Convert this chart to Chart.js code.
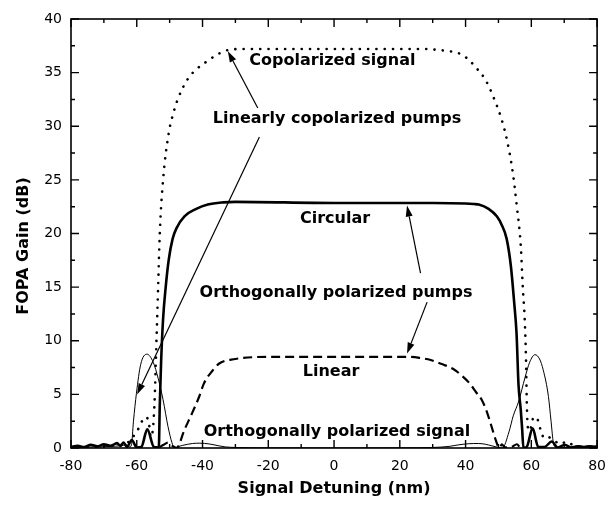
<!DOCTYPE html>
<html>
<head>
<meta charset="utf-8">
<script src="https://cdn.jsdelivr.net/npm/chart.js@4.4.1/dist/chart.umd.min.js"></script>
<style>
  html, body { margin: 0; padding: 0; background: #fff; }
</style>
</head>
<body>
<canvas id="fopa" width="616" height="508"></canvas>
<script>
// ── data (x = signal detuning in nm, y = gain in dB) ──
const copolX = [-80,-76,-72,-69,-66,-64,-62.8,-61.6,-60.6,-59.5,-58.4,-57.2,-56.3,-55.7,-55.2,-54.8,-54.5,-54.2,-53.9,-53.5,-53.0,-52.0,-50.3,-48.8,-47.3,-44.5,-41.9,-38.9,-35.4,-32.3,-28,-20,0,20,28,32,35,38,40.2,43.1,46.1,48.5,50.9,52.6,54.4,55.6,56.8,57.4,58.0,58.4,58.6,58.9,59.5,60.6,61.5,62.2,62.9,64.0,65.2,67.2,68.6,70.9,72.5,75,80];
const copolY = [0.05,0.1,0.12,0.2,0.25,0.3,0.5,0.8,1.3,1.8,2.5,2.9,2.3,1.0,1.5,3.0,5.0,8.0,11.0,15.0,20.0,25.0,29.3,31.3,32.7,34.4,35.3,36.0,36.7,37.1,37.2,37.2,37.2,37.2,37.2,37.1,37.0,36.8,36.4,35.5,34.3,32.7,30.7,28.7,25.6,22.5,18.8,15.0,11.9,8.0,4.5,2.0,1.6,2.8,2.9,2.4,1.6,0.9,1.0,0.65,0.35,0.6,0.3,0.15,0.1];

const circX = [-80,-78,-76,-74,-72,-70,-68,-66,-65,-64,-63,-61.5,-60,-58.6,-56.8,-54.8,-53.6,-53.3,-53.0,-52.6,-52.0,-51.2,-50.3,-49.1,-47.9,-45.5,-41.9,-38.4,-33.6,-30,0,30,40,42.5,44,47,49.5,51,52.5,53.8,54.8,55.5,56.1,56.8,57.2,57.6,58.6,60.4,62.1,64,66.2,68,70.2,72,74,76,78,80];
const circY = [0.1,0.2,0.1,0.3,0.15,0.35,0.2,0.45,0.2,0.5,0.1,0.75,0.05,0.1,1.75,0.1,0.05,0.0,4.0,8.0,12.0,15.0,17.5,19.5,20.5,21.6,22.3,22.7,22.9,22.95,22.85,22.85,22.8,22.75,22.7,22.3,21.6,20.8,19.5,16.9,13.5,10.7,5.9,3.5,1.8,0.0,0.1,1.83,0.1,0.1,0.6,0.05,0.3,0.05,0.15,0.1,0.15,0.1];

const linX = [-53,-51.8,-50.5,-49.2,-47.9,-45.5,-43.1,-41,-39.6,-37,-34.8,-30,-27.7,-20.5,0,22.3,26,29.4,33,36.6,39,41.3,43.2,44.9,46.2,47.3,48.3,49.1,50.3,51.0,52.0,54.0,55.6,56.5];
const linY = [0.1,0.3,0.5,0.2,0.0,1.7,3.3,4.8,6.0,7.2,7.9,8.3,8.4,8.5,8.5,8.5,8.4,8.2,7.8,7.3,6.7,6.0,5.2,4.5,3.6,2.6,1.6,0.8,0.0,0.35,0.05,0.1,0.35,0.05];

const orthoX = [-80,-76,-72,-68,-65,-63,-62.2,-61.6,-61.0,-60.1,-58.8,-56.9,-55,-53.5,-52,-50.5,-49.3,-48.6,-46,-43,-40.8,-38,-35,-33,-30,-20,0,20,30,35,38,41,44,46,48,50,51.2,53.2,54.5,56.1,58.1,59.5,61.1,62.5,63.6,65.2,66.0,66.7,67.5,70,75,80];
const orthoY = [0.05,0.1,0.1,0.15,0.2,0.3,0.1,0.3,2.5,5.1,7.8,8.75,8.0,6.5,4.5,2.0,0.5,0.05,0.25,0.42,0.45,0.38,0.2,0.1,0.05,0.02,0.01,0.02,0.05,0.15,0.3,0.4,0.42,0.35,0.2,0.05,0.0,1.5,3.0,4.3,6.6,8.0,8.7,8.3,7.3,4.8,2.5,0.5,0.1,0.05,0.1,0.05];

const xTickValues = [-80, -60, -40, -20, 0, 20, 40, 60, 80];
const yTickValues = [0, 5, 10, 15, 20, 25, 30, 35, 40];

// text labels placed in data coordinates
const noteText = ['Copolarized signal', 'Linearly copolarized pumps', 'Circular',
                  'Orthogonally polarized pumps', 'Linear', 'Orthogonally polarized signal'];
const noteX = [-0.5, 0.9, 0.3, 0.6, -0.9, 0.9];
const noteY = [36.1, 30.7, 21.4, 14.45, 7.1, 1.5];

// arrows: tail -> head, data coordinates
const arrowTailX = [-23.2, -22.7, 26.3, 28.3];
const arrowTailY = [31.7, 29.0, 16.3, 13.6];
const arrowHeadX = [-32.3, -59.9, 22.2, 22.2];
const arrowHeadY = [37.0, 5.0, 22.6, 8.8];

const zip = (xs, ys) => xs.map((x, i) => ({ x: x, y: ys[i] }));

const FONT = '"DejaVu Sans", sans-serif';

// frame, inward ticks, notes and arrows
const decorPlugin = {
  id: 'decor',
  afterDatasetsDraw(chart) {
    const ctx = chart.ctx;
    const a = chart.chartArea;
    const xs = chart.scales.x, ys = chart.scales.y;
    ctx.save();
    ctx.strokeStyle = '#000';
    ctx.lineWidth = 1.6;
    ctx.strokeRect(a.left, a.top, a.right - a.left, a.bottom - a.top);

    ctx.lineWidth = 1.4;
    ctx.beginPath();
    for (let v = -80; v <= 80; v += 10) {
      const px = xs.getPixelForValue(v);
      const len = v % 20 === 0 ? 8 : 4;
      ctx.moveTo(px, a.bottom); ctx.lineTo(px, a.bottom - len);
      ctx.moveTo(px, a.top);    ctx.lineTo(px, a.top + len);
    }
    for (let v = 0; v <= 40; v += 2.5) {
      const py = ys.getPixelForValue(v);
      const len = v % 5 === 0 ? 8 : 4;
      ctx.moveTo(a.left, py);  ctx.lineTo(a.left + len, py);
      ctx.moveTo(a.right, py); ctx.lineTo(a.right - len, py);
    }
    ctx.stroke();

    // notes
    ctx.fillStyle = '#000';
    ctx.font = 'bold 16px ' + FONT;
    ctx.textAlign = 'center';
    ctx.textBaseline = 'middle';
    noteText.forEach((t, i) => {
      ctx.fillText(t, xs.getPixelForValue(noteX[i]), ys.getPixelForValue(noteY[i]));
    });

    // arrows
    ctx.lineWidth = 1.2;
    arrowTailX.forEach((tx, i) => {
      const x0 = xs.getPixelForValue(tx), y0 = ys.getPixelForValue(arrowTailY[i]);
      const x1 = xs.getPixelForValue(arrowHeadX[i]), y1 = ys.getPixelForValue(arrowHeadY[i]);
      const ang = Math.atan2(y1 - y0, x1 - x0);
      const hl = 11, hw = 3.5;
      const bx = x1 - hl * Math.cos(ang), by = y1 - hl * Math.sin(ang);
      ctx.beginPath();
      ctx.moveTo(x0, y0); ctx.lineTo(bx, by);
      ctx.stroke();
      ctx.beginPath();
      ctx.moveTo(x1, y1);
      ctx.lineTo(bx + hw * Math.sin(ang), by - hw * Math.cos(ang));
      ctx.lineTo(bx - hw * Math.sin(ang), by + hw * Math.cos(ang));
      ctx.closePath();
      ctx.fill();
    });

    // y axis title
    ctx.font = 'bold 16px ' + FONT;
    ctx.translate(24, 246);
    ctx.rotate(-Math.PI / 2);
    ctx.fillText('FOPA Gain (dB)', 0, 0);
    ctx.restore();
  }
};

const common = { pointRadius: 0, borderColor: '#000', fill: false, cubicInterpolationMode: 'monotone' };

new Chart(document.getElementById('fopa'), {
  type: 'line',
  data: {
    datasets: [
      Object.assign({ label: 'Copolarized signal', data: zip(copolX, copolY), borderWidth: 2.6, borderDash: [0.1, 8.2], borderCapStyle: 'round' }, common),
      Object.assign({ label: 'Circular', data: zip(circX, circY), borderWidth: 2.6 }, common),
      Object.assign({ label: 'Linear', data: zip(linX, linY), borderWidth: 2.2, borderDash: [9, 5] }, common),
      Object.assign({ label: 'Orthogonally polarized signal', data: zip(orthoX, orthoY), borderWidth: 1 }, common)
    ]
  },
  options: {
    responsive: false,
    animation: false,
    layout: { padding: { left: 0, top: 19, right: 17, bottom: 0 } },
    plugins: { legend: { display: false }, tooltip: { enabled: false } },
    scales: {
      x: {
        type: 'linear', min: -80, max: 80,
        afterBuildTicks: s => { s.ticks = xTickValues.map(v => ({ value: v })); },
        afterFit: s => { s.height = 60; },
        grid: { display: false, drawTicks: false },
        border: { display: false },
        ticks: { color: '#000', padding: 10, font: { family: FONT, size: 14 } },
        title: { display: true, text: 'Signal Detuning (nm)', color: '#000', padding: { top: 0, bottom: 10 },
                 font: { family: FONT, size: 16, weight: 'bold' } }
      },
      y: {
        type: 'linear', min: 0, max: 40,
        afterBuildTicks: s => { s.ticks = yTickValues.map(v => ({ value: v })); },
        afterFit: s => { s.width = 71; },
        grid: { display: false, drawTicks: false },
        border: { display: false },
        ticks: { color: '#000', padding: 9, font: { family: FONT, size: 14 } }
      }
    }
  },
  plugins: [decorPlugin]
});
</script>
</body>
</html>
